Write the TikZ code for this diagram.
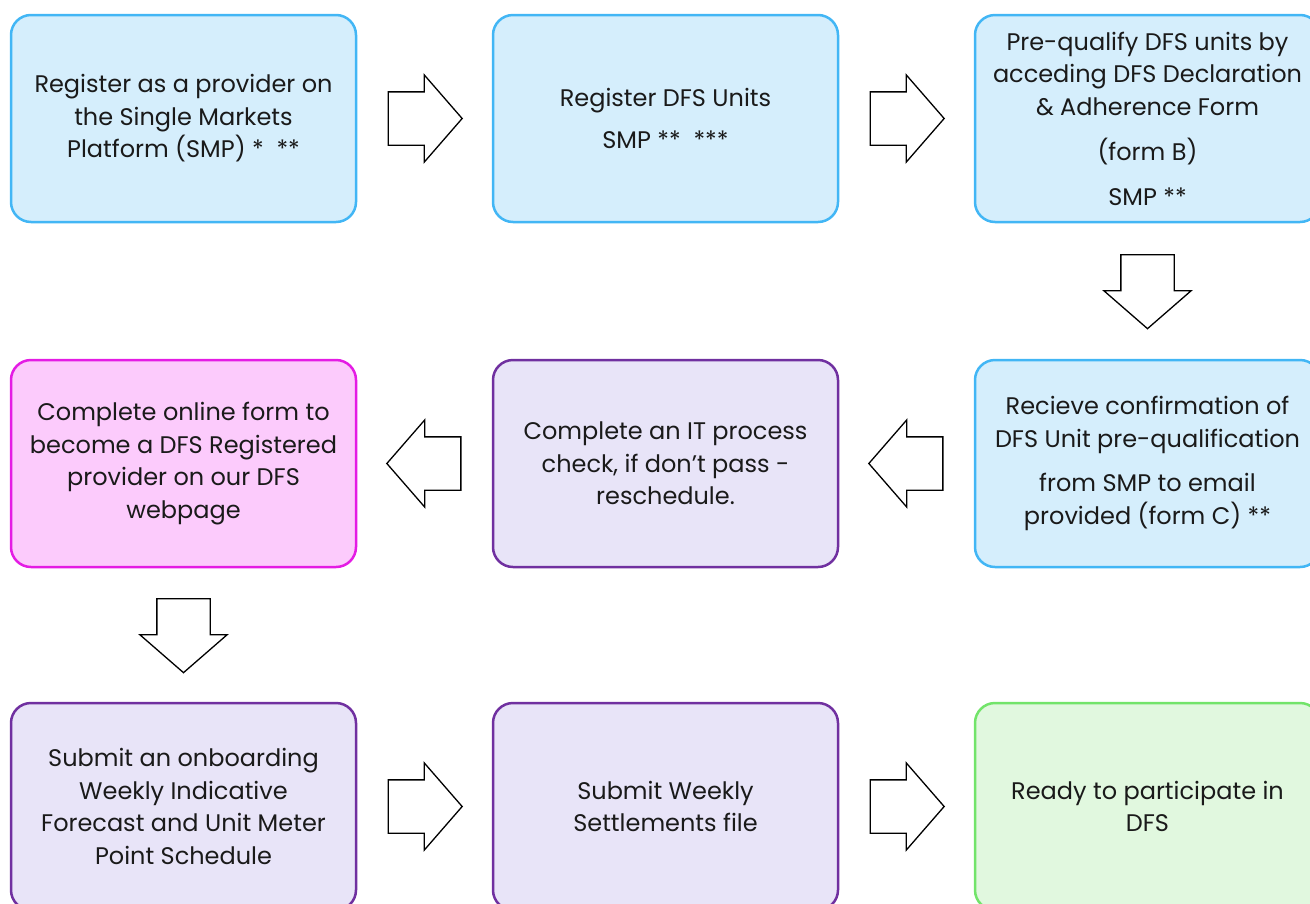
\documentclass[tikz,border=0pt]{standalone}
\usepackage{fontspec}
\setmainfont{Poppins}
\usetikzlibrary{shapes.arrows,calc}
\definecolor{smpline}{HTML}{42B6F5}
\definecolor{smpfill}{HTML}{D5EEFC}
\definecolor{itline}{HTML}{7030A0}
\definecolor{itfill}{HTML}{E8E4F8}
\definecolor{webline}{HTML}{E41CE4}
\definecolor{webfill}{HTML}{FCCBFC}
\definecolor{goline}{HTML}{72E46A}
\definecolor{gofill}{HTML}{E1F8DF}
\definecolor{textcol}{HTML}{1A1A1A}
\begin{document}
\begin{tikzpicture}[x=1pt,y=-1pt,
	stepbox/.style={draw,rounded corners=20pt,line width=2.5pt,minimum width=345pt,minimum height=207pt,align=center,text=textcol,font=\fontsize{24}{32.5}\selectfont},
	smpbox/.style={stepbox,draw=smpline,fill=smpfill},
	itbox/.style={stepbox,draw=itline,fill=itfill},
	webbox/.style={stepbox,draw=webline,fill=webfill},
	gobox/.style={stepbox,draw=goline,fill=gofill},
	blockarrow/.style={single arrow,draw=black,fill=white,line width=1.3pt,inner sep=0pt,inner ysep=26pt,single arrow head extend=17pt,single arrow tip angle=98,minimum height=74pt,anchor=tail}]
		\useasboundingbox (0,0) rectangle (1310,903);
		\clip (0,0) rectangle (1310,903);
		% Row 1
		\node[smpbox] (reg) at (183.5,118.5) {Register as a provider on\\the Single Markets\\Platform (SMP) *~~**};
		\node[smpbox] (units) at (665.5,118.5) {Register DFS Units\\[10pt]SMP **~~***};
		\node[smpbox] (prequal) at (1147.5,118.5) {Pre-qualify DFS units by\\acceding DFS Declaration\\\& Adherence Form\\[13pt](form B)\\[12pt]SMP **};
		% Row 2
		\node[webbox] (online) at (183.5,463.5) {Complete online form to\\become a DFS Registered\\provider on our DFS\\webpage};
		\node[itbox] (itcheck) at (665.5,463.5) {Complete an IT process\\check, if don't pass -\\reschedule.};
		\node[smpbox] (confirm) at (1147.5,463.5) {Recieve confirmation of\\DFS Unit pre-qualification\\[12pt]from SMP to email\\provided (form C) **};
		% Row 3
		\node[itbox] (forecast) at (183.5,806.5) {Submit an onboarding\\Weekly Indicative\\Forecast and Unit Meter\\Point Schedule};
		\node[itbox] (settle) at (665.5,806.5) {Submit Weekly\\Settlements file};
		\node[gobox] (ready) at (1147.5,806.5) {Ready to participate in\\DFS};
		% Arrows
		\node[blockarrow] (a1) at ($(reg.east)!0.5!(units.west)+(-37,0)$) {};
		\node[blockarrow] (a2) at ($(units.east)!0.5!(prequal.west)+(-37,0)$) {};
		\node[blockarrow,rotate=-90] (a3) at ($(prequal.south)!0.5!(confirm.north)+(0,-37)$) {};
		\node[blockarrow,rotate=180] (a4) at ($(confirm.west)!0.5!(itcheck.east)+(37,0)$) {};
		\node[blockarrow,rotate=180] (a5) at ($(itcheck.west)!0.5!(online.east)+(37,0)$) {};
		\node[blockarrow,rotate=-90] (a6) at ($(online.south)!0.5!(forecast.north)+(0,-37)$) {};
		\node[blockarrow] (a7) at ($(forecast.east)!0.5!(settle.west)+(-37,0)$) {};
		\node[blockarrow] (a8) at ($(settle.east)!0.5!(ready.west)+(-37,0)$) {};
	\end{tikzpicture}
\end{document}
